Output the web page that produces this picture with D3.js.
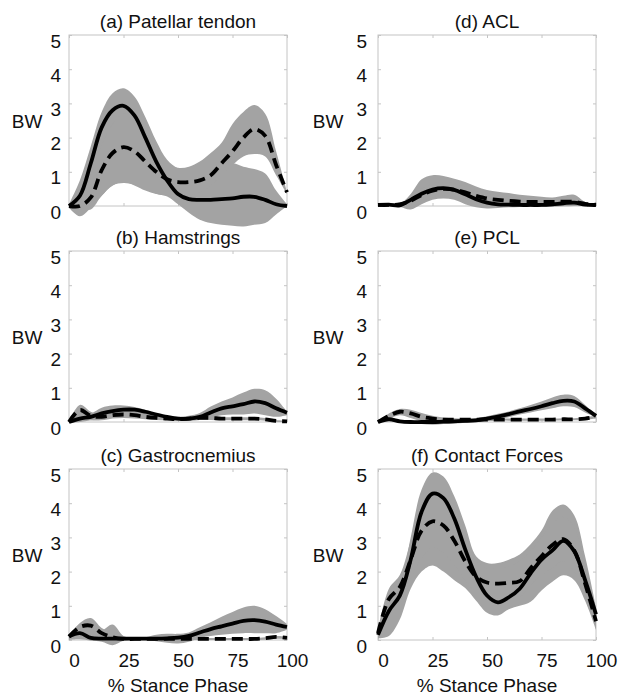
<!DOCTYPE html>
<html>
<head>
<meta charset="utf-8">
<script src="https://cdn.jsdelivr.net/npm/d3@7"></script>
<style>
  body { margin: 0; background: #fff; }
  text { font-family: "Liberation Sans", Arial, sans-serif; fill: #111; }
</style>
</head>
<body>
<div id="chart"></div>
<script>
// % stance phase sample points
const pct = [0, 5, 10, 15, 20, 25, 30, 35, 40, 45, 50, 55, 60, 65, 70, 75, 80, 85, 90, 95, 100];
const xTicks = [0, 25, 50, 75, 100];
const yTicks = [0, 1, 2, 3, 4, 5];

// (a) Patellar tendon
const aSolid   = [0.0, 0.3, 1.25, 2.3, 2.8, 2.93, 2.65, 2.0, 1.3, 0.75, 0.35, 0.2, 0.18, 0.18, 0.2, 0.22, 0.27, 0.27, 0.18, 0.05, 0.0];
const aSolidLo = [-0.05, -0.3, -0.05, 0.3, 0.6, 0.67, 0.62, 0.48, 0.36, 0.28, 0.05, -0.2, -0.4, -0.5, -0.55, -0.58, -0.6, -0.55, -0.5, -0.25, 0.0];
const aSolidHi = [0.05, 0.75, 1.75, 2.75, 3.3, 3.44, 3.2, 2.6, 1.9, 1.35, 1.1, 1.0, 0.95, 0.95, 1.05, 1.25, 1.15, 1.08, 0.95, 0.45, 0.05];
const aDash    = [0.0, 0.0, 0.25, 1.05, 1.55, 1.72, 1.6, 1.3, 1.0, 0.78, 0.7, 0.7, 0.75, 0.9, 1.25, 1.6, 2.0, 2.25, 2.05, 1.2, 0.4];
const aDashLo  = [-0.05, -0.1, -0.1, 0.3, 0.6, 0.7, 0.6, 0.45, 0.35, 0.3, 0.28, 0.3, 0.4, 0.6, 0.9, 1.2, 1.45, 1.52, 1.45, 0.9, 0.35];
const aDashHi  = [0.05, 0.3, 0.9, 1.8, 2.4, 2.7, 2.6, 2.2, 1.7, 1.25, 1.12, 1.15, 1.3, 1.55, 1.85, 2.4, 2.75, 2.95, 2.7, 1.6, 0.4];

// (b) Hamstrings
const bSolid   = [0.0, 0.1, 0.15, 0.25, 0.32, 0.36, 0.36, 0.3, 0.22, 0.15, 0.1, 0.1, 0.15, 0.28, 0.4, 0.46, 0.52, 0.6, 0.55, 0.4, 0.27];
const bSolidLo = [-0.02, 0.0, 0.05, 0.1, 0.18, 0.22, 0.22, 0.18, 0.12, 0.06, 0.04, 0.04, 0.06, 0.12, 0.2, 0.22, 0.22, 0.25, 0.2, 0.15, 0.2];
const bSolidHi = [0.02, 0.2, 0.25, 0.42, 0.48, 0.48, 0.44, 0.36, 0.25, 0.18, 0.15, 0.18, 0.26, 0.45, 0.6, 0.72, 0.86, 0.97, 0.93, 0.68, 0.3];
const bDash    = [0.0, 0.35, 0.18, 0.15, 0.2, 0.22, 0.2, 0.15, 0.12, 0.1, 0.08, 0.1, 0.12, 0.12, 0.1, 0.1, 0.1, 0.1, 0.08, 0.03, 0.02];
const bDashLo  = [-0.02, 0.15, 0.05, 0.05, 0.1, 0.12, 0.1, 0.08, 0.06, 0.05, 0.04, 0.05, 0.06, 0.06, 0.05, 0.05, 0.05, 0.05, 0.04, 0.0, 0.0];
const bDashHi  = [0.02, 0.5, 0.3, 0.2, 0.28, 0.3, 0.28, 0.22, 0.18, 0.14, 0.12, 0.14, 0.16, 0.16, 0.14, 0.14, 0.14, 0.14, 0.12, 0.06, 0.04];

// (c) Gastrocnemius
const cSolid   = [0.1, 0.2, 0.06, 0.04, 0.04, 0.04, 0.04, 0.04, 0.04, 0.05, 0.07, 0.12, 0.22, 0.32, 0.4, 0.48, 0.56, 0.58, 0.54, 0.45, 0.38];
const cSolidLo = [0.0, 0.02, -0.02, -0.05, -0.15, -0.02, 0.0, 0.0, -0.04, -0.08, -0.1, -0.05, 0.06, 0.12, 0.15, 0.18, 0.2, 0.2, 0.2, 0.2, 0.3];
const cSolidHi = [0.12, 0.35, 0.35, 0.28, 0.45, 0.12, 0.06, 0.08, 0.15, 0.18, 0.18, 0.22, 0.37, 0.52, 0.68, 0.82, 0.95, 1.0, 0.9, 0.7, 0.47];
const cDash    = [0.1, 0.38, 0.42, 0.2, 0.08, 0.03, 0.03, 0.03, 0.03, 0.03, 0.03, 0.03, 0.03, 0.03, 0.03, 0.03, 0.03, 0.03, 0.05, 0.09, 0.06];
const cDashLo  = [0.0, 0.15, 0.15, 0.02, -0.05, -0.01, 0.0, 0.0, 0.0, 0.0, 0.0, 0.0, 0.0, 0.0, 0.0, 0.0, 0.0, 0.0, 0.01, 0.04, 0.02];
const cDashHi  = [0.12, 0.5, 0.64, 0.35, 0.2, 0.08, 0.06, 0.06, 0.06, 0.06, 0.06, 0.06, 0.06, 0.06, 0.06, 0.06, 0.06, 0.06, 0.08, 0.12, 0.1];

// (d) ACL
const dSolid   = [0.03, 0.04, 0.02, 0.18, 0.36, 0.48, 0.52, 0.47, 0.34, 0.2, 0.1, 0.05, 0.04, 0.03, 0.03, 0.03, 0.05, 0.08, 0.1, 0.04, 0.03];
const dSolidLo = [0.0, 0.0, -0.03, -0.1, 0.05, 0.18, 0.22, 0.18, 0.05, -0.04, -0.07, -0.06, -0.04, -0.03, -0.03, -0.03, -0.02, -0.01, 0.0, 0.0, 0.01];
const dSolidHi = [0.06, 0.07, 0.06, 0.35, 0.78, 0.9, 0.88, 0.8, 0.7, 0.57, 0.47, 0.42, 0.38, 0.33, 0.3, 0.27, 0.25, 0.3, 0.33, 0.12, 0.05];
const dDash    = [0.03, 0.03, 0.05, 0.15, 0.32, 0.45, 0.5, 0.48, 0.4, 0.3, 0.22, 0.18, 0.15, 0.13, 0.12, 0.12, 0.12, 0.13, 0.12, 0.06, 0.04];
const dDashLo  = [0.0, 0.0, 0.0, 0.05, 0.15, 0.25, 0.3, 0.28, 0.22, 0.15, 0.08, 0.05, 0.04, 0.03, 0.02, 0.02, 0.02, 0.02, 0.02, 0.0, 0.0];
const dDashHi  = [0.06, 0.06, 0.1, 0.25, 0.5, 0.65, 0.7, 0.66, 0.56, 0.45, 0.36, 0.31, 0.27, 0.24, 0.22, 0.21, 0.22, 0.26, 0.25, 0.12, 0.06];

// (e) PCL
const eSolid   = [0.0, 0.08, 0.02, 0.0, 0.0, 0.0, 0.01, 0.02, 0.03, 0.05, 0.1, 0.16, 0.23, 0.31, 0.38, 0.46, 0.55, 0.62, 0.6, 0.4, 0.18];
const eSolidLo = [-0.02, 0.04, -0.02, -0.04, -0.06, -0.08, -0.06, -0.04, -0.02, 0.0, 0.03, 0.08, 0.14, 0.22, 0.28, 0.34, 0.4, 0.46, 0.44, 0.28, 0.14];
const eSolidHi = [0.02, 0.12, 0.06, 0.04, 0.04, 0.04, 0.05, 0.06, 0.08, 0.11, 0.17, 0.24, 0.31, 0.4, 0.5, 0.6, 0.72, 0.8, 0.76, 0.5, 0.2];
const eDash    = [0.0, 0.18, 0.3, 0.25, 0.15, 0.1, 0.07, 0.07, 0.07, 0.07, 0.07, 0.07, 0.07, 0.07, 0.07, 0.07, 0.07, 0.08, 0.08, 0.1, 0.15];
const eDashLo  = [-0.02, 0.1, 0.2, 0.12, 0.02, -0.05, -0.06, -0.04, -0.02, 0.02, 0.03, 0.04, 0.04, 0.04, 0.04, 0.04, 0.04, 0.05, 0.05, 0.06, 0.1];
const eDashHi  = [0.02, 0.25, 0.38, 0.36, 0.26, 0.18, 0.13, 0.11, 0.1, 0.1, 0.1, 0.1, 0.1, 0.1, 0.1, 0.1, 0.1, 0.11, 0.11, 0.14, 0.18];

// (f) Contact Forces
const fSolid   = [0.15, 0.85, 1.3, 2.35, 3.75, 4.28, 4.15, 3.55, 2.65, 1.85, 1.3, 1.1, 1.25, 1.5, 1.95, 2.35, 2.62, 2.9, 2.6, 1.75, 0.75];
const fSolidLo = [0.05, 0.12, 0.6, 1.5, 2.0, 2.18, 2.0, 1.75, 1.52, 1.15, 0.8, 0.72, 0.9, 1.0, 1.12, 1.45, 1.7, 1.89, 1.75, 1.15, 0.3];
const fSolidHi = [0.25, 1.2, 1.6, 3.0, 4.4, 4.9, 4.78, 4.2, 3.35, 2.45, 2.25, 2.25, 2.35, 2.5, 2.8, 3.2, 3.78, 3.96, 3.65, 2.45, 0.95];
const fDash    = [0.2, 1.2, 1.55, 2.35, 3.2, 3.47, 3.35, 2.9, 2.3, 1.85, 1.68, 1.65, 1.67, 1.72, 2.1, 2.45, 2.78, 2.95, 2.62, 1.65, 0.55];
const fDashLo  = [0.1, 0.8, 1.2, 1.8, 2.4, 2.7, 2.55, 2.2, 1.75, 1.4, 1.25, 1.2, 1.2, 1.25, 1.6, 1.9, 2.1, 2.3, 2.0, 1.2, 0.4];
const fDashHi  = [0.3, 1.5, 1.9, 2.9, 4.0, 4.3, 4.15, 3.6, 2.9, 2.3, 2.1, 2.1, 2.15, 2.3, 2.6, 3.0, 3.4, 3.6, 3.3, 2.1, 0.7];

const titles = ["(a) Patellar tendon", "(b) Hamstrings", "(c) Gastrocnemius",
                "(d) ACL", "(e) PCL", "(f) Contact Forces"];

// panel table built from the arrays above (column-major: a,b,c then d,e,f)
const panels = [
  { solid: aSolid, solidLo: aSolidLo, solidHi: aSolidHi, dash: aDash, dashLo: aDashLo, dashHi: aDashHi },
  { solid: bSolid, solidLo: bSolidLo, solidHi: bSolidHi, dash: bDash, dashLo: bDashLo, dashHi: bDashHi },
  { solid: cSolid, solidLo: cSolidLo, solidHi: cSolidHi, dash: cDash, dashLo: cDashLo, dashHi: cDashHi },
  { solid: dSolid, solidLo: dSolidLo, solidHi: dSolidHi, dash: dDash, dashLo: dDashLo, dashHi: dDashHi },
  { solid: eSolid, solidLo: eSolidLo, solidHi: eSolidHi, dash: eDash, dashLo: eDashLo, dashHi: eDashHi },
  { solid: fSolid, solidLo: fSolidLo, solidHi: fSolidHi, dash: fDash, dashLo: fDashLo, dashHi: fDashHi }
].map((p, i) => Object.assign(p, { title: titles[i], col: Math.floor(i / 3), row: i % 3 }));

// layout
const W = 627, H = 695;
const colLeft = [69, 378];
const rowTop = [35, 251, 469];
const plotW = 218, plotH = 171;
const fontSize = 19;
const bandColor = "#a3a3a3";
const boxColor = "#c4c4c4";

const x = d3.scaleLinear().domain([0, 100]).range([0, plotW]);
const y = d3.scaleLinear().domain([0, 5]).range([plotH, 0]);

const svg = d3.select("#chart")
  .append("svg")
    .attr("width", W)
    .attr("height", H);

const area = (lo, hi) => d3.area()
    .x((d, i) => x(pct[i]))
    .y0((d, i) => y(lo[i]))
    .y1((d, i) => y(hi[i]))
    .curve(d3.curveCatmullRom)(pct);

const line = d3.line()
    .x((d, i) => x(pct[i]))
    .y(d => y(d))
    .curve(d3.curveCatmullRom);

function styleAxis(g) {
  g.select(".domain").remove();
  g.selectAll(".tick line").attr("stroke", boxColor);
  g.selectAll(".tick text")
    .style("font-size", fontSize + "px")
    .attr("fill", "#111");
}

panels.forEach(p => {
  const isBottom = p.row === 2;
  const g = svg.append("g")
      .attr("transform", `translate(${colLeft[p.col]},${rowTop[p.row]})`);

  // box
  g.append("rect")
    .attr("width", plotW)
    .attr("height", plotH)
    .attr("fill", "#fff")
    .attr("stroke", boxColor)
    .attr("stroke-width", 1);

  // inward ticks on all four sides
  g.append("g")
    .attr("transform", `translate(0,${plotH})`)
    .call(d3.axisBottom(x).tickValues(xTicks).tickSizeInner(-3).tickSizeOuter(0)
      .tickPadding(14).tickFormat(isBottom ? d3.format("d") : ""))
    .call(styleAxis)
    .call(a => a.selectAll(".tick text").attr("dx", 5));

  g.append("g")
    .call(d3.axisTop(x).tickValues(xTicks).tickSizeInner(-3).tickSizeOuter(0).tickFormat(""))
    .call(styleAxis);

  g.append("g")
    .call(d3.axisLeft(y).tickValues(yTicks).tickSizeInner(-3).tickSizeOuter(0)
      .tickPadding(p.col === 0 ? 8 : 11).tickFormat(d3.format("d")))
    .call(styleAxis)
    .call(a => a.selectAll(".tick text").attr("dy", "0.64em"));

  g.append("g")
    .attr("transform", `translate(${plotW},0)`)
    .call(d3.axisRight(y).tickValues(yTicks).tickSizeInner(-3).tickSizeOuter(0).tickFormat(""))
    .call(styleAxis);

  // variability bands
  g.append("path").attr("d", area(p.solidLo, p.solidHi)).attr("fill", bandColor);
  g.append("path").attr("d", area(p.dashLo, p.dashHi)).attr("fill", bandColor);

  // mean curves
  g.append("path")
    .datum(p.dash)
    .attr("fill", "none")
    .attr("stroke", "#000")
    .attr("stroke-width", 3.8)
    .attr("stroke-dasharray", "11,6")
    .attr("d", line);

  g.append("path")
    .datum(p.solid)
    .attr("fill", "none")
    .attr("stroke", "#000")
    .attr("stroke-width", 3.8)
    .attr("d", line);

  // title
  g.append("text")
    .attr("x", plotW / 2)
    .attr("y", -7)
    .attr("text-anchor", "middle")
    .style("font-size", fontSize + "px")
    .text(p.title);

  // y label
  g.append("text")
    .attr("x", p.col === 0 ? -42 : -50)
    .attr("y", y(2.5) + 7)
    .attr("text-anchor", "middle")
    .style("font-size", fontSize + "px")
    .text("BW");

  // x label
  if (isBottom) {
    g.append("text")
      .attr("x", plotW / 2)
      .attr("y", plotH + 52)
      .attr("text-anchor", "middle")
      .style("font-size", fontSize + "px")
      .text("% Stance Phase");
  }
});
</script>
</body>
</html>
